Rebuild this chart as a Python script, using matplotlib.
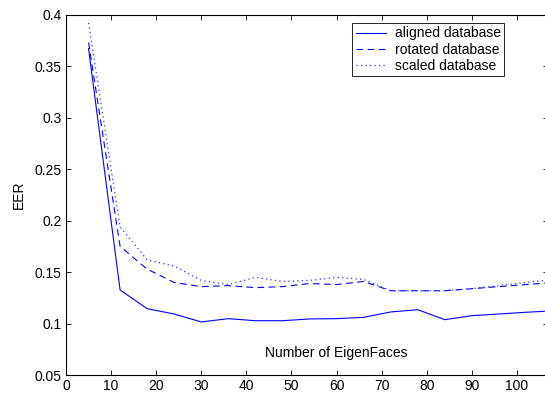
import numpy as np
import matplotlib.pyplot as plt
from matplotlib.ticker import FuncFormatter

plt.rcParams['font.family'] = ['Liberation Sans', 'DejaVu Sans']

# Number of eigenfaces
n_faces = [5, 12, 18, 24, 30, 36, 42, 48, 54, 60, 66, 72, 78, 84, 90, 96, 102, 108]

# EER per database
aligned = [0.367, 0.1327, 0.1146, 0.1094, 0.1017, 0.1049, 0.1029, 0.1029, 0.1046,
           0.1049, 0.1062, 0.1114, 0.1136, 0.1039, 0.1078, 0.1094, 0.1111, 0.1125]
rotated = [0.373, 0.175, 0.153, 0.140, 0.136, 0.137, 0.135, 0.136, 0.139,
           0.138, 0.141, 0.132, 0.132, 0.132, 0.134, 0.136, 0.138, 0.140]
scaled = [0.392, 0.194, 0.162, 0.156, 0.142, 0.138, 0.145, 0.141, 0.142,
          0.145, 0.143, 0.132, 0.132, 0.132, 0.134, 0.137, 0.140, 0.143]

fig = plt.figure(figsize=(5.45, 3.94), dpi=100)
ax = fig.add_axes([66 / 545, 18.8 / 394, 482 / 545, 360.5 / 394])

ax.plot(n_faces, aligned, color='#0000ff', linewidth=0.8, label='aligned database')
ax.plot(n_faces, rotated, color='#0000ff', linewidth=0.8, linestyle=(0, (6, 4)),
        label='rotated database')
ax.plot(n_faces, scaled, color='#3333ff', linewidth=0.9, linestyle=(0, (1, 2.6)),
        label='scaled database')

ax.set_xlim(0, 106.9)
ax.set_ylim(0.05, 0.4)
ax.set_xticks(np.arange(0, 101, 10))
ax.set_yticks(np.arange(0.05, 0.401, 0.05))
ax.yaxis.set_major_formatter(FuncFormatter(lambda v, p: '%g' % round(v, 2)))

ax.tick_params(direction='in', top=True, right=True, length=3.6, width=0.6,
               labelsize=10, pad=3)
for s in ax.spines.values():
    s.set_linewidth(0.8)

ax.set_ylabel('EER', fontsize=10, labelpad=6)
ax.set_xlabel('Number of EigenFaces', fontsize=10)
ax.xaxis.set_label_coords(0.56, 0.08)

leg = ax.legend(loc='upper right', bbox_to_anchor=(0.909, 0.977), fontsize=10,
                fancybox=False, edgecolor='black', framealpha=1,
                handlelength=2.2, handletextpad=0.6, borderpad=0.25,
                labelspacing=0.15, borderaxespad=0)
leg.get_frame().set_linewidth(0.6)

fig.savefig('out.png', dpi=100)
